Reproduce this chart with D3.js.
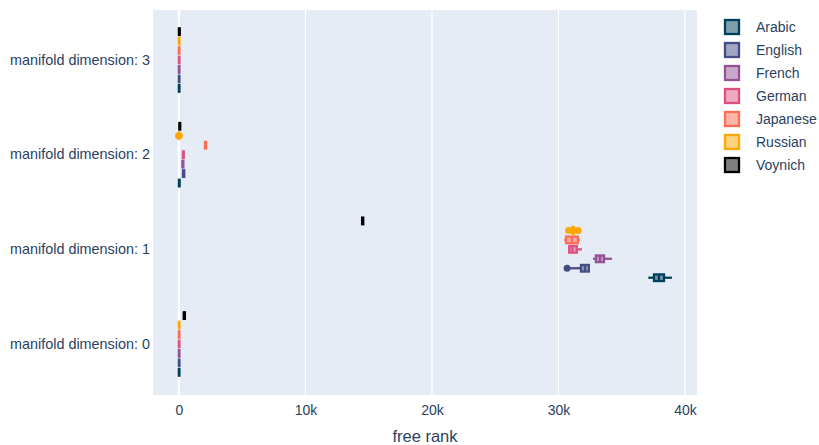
<!DOCTYPE html>
<html>
<head>
<meta charset="utf-8">
<script src="https://cdn.jsdelivr.net/npm/d3@7"></script>
<style>
  html, body { margin: 0; padding: 0; background: #fff; }
  svg { display: block; font-family: "Liberation Sans", Arial, sans-serif; }
</style>
</head>
<body>
<svg id="chart" width="819" height="445"></svg>
<script>
// Languages (one box trace each) and their colours
const languages = ["Arabic", "English", "French", "German", "Japanese", "Russian", "Voynich"];
const colors = ["#003f5c", "#444e86", "#955196", "#dd5182", "#ff6e54", "#ffa600", "#000000"];

// Category axis (bottom to top)
const dimensions = ["manifold dimension: 0", "manifold dimension: 1", "manifold dimension: 2", "manifold dimension: 3"];

// x axis ticks
const xTicks = [0, 10000, 20000, 30000, 40000];
const xTickLabels = ["0", "10k", "20k", "30k", "40k"];

// Box statistics per language: [lower whisker, q1, median, q3, upper whisker], one row per dimension (0..3)
const arabicBoxes   = [[0, 0, 10, 30, 40], [37100, 37550, 37940, 38340, 38970], [0, 0, 20, 50, 50], [0, 0, 10, 30, 40]];
const englishBoxes  = [[0, 0, 10, 30, 40], [30700, 31780, 32100, 32400, 32400], [300, 320, 360, 420, 430], [0, 0, 10, 30, 40]];
const frenchBoxes   = [[0, 0, 10, 30, 40], [32730, 32960, 33280, 33600, 34230], [260, 280, 310, 350, 360], [0, 0, 10, 30, 40]];
const germanBoxes   = [[0, 0, 10, 30, 40], [30750, 30850, 31100, 31450, 31850], [300, 310, 340, 380, 390], [0, 0, 10, 30, 40]];
const japaneseBoxes = [[0, 0, 10, 30, 40], [30450, 30600, 31070, 31540, 31700], [2020, 2060, 2100, 2140, 2160], [0, 0, 10, 30, 40]];
const russianBoxes  = [[0, 0, 10, 30, 40], [31050, 31080, 31150, 31230, 31250], [0, 0, 0, 10, 10], [0, 0, 10, 30, 40]];
const voynichBoxes  = [[360, 380, 420, 470, 480], [14450, 14480, 14520, 14570, 14600], [30, 40, 70, 100, 110], [0, 0, 20, 60, 70]];

// Points beyond the whiskers, per language, one list per dimension (0..3)
const arabicOutliers   = [[], [], [], []];
const englishOutliers  = [[], [30680], [], []];
const frenchOutliers   = [[], [], [], []];
const germanOutliers   = [[], [], [], []];
const japaneseOutliers = [[], [], [], []];
const russianOutliers  = [[], [30800, 31560], [-30, 40], []];
const voynichOutliers  = [[], [], [], []];

const boxSets = [arabicBoxes, englishBoxes, frenchBoxes, germanBoxes, japaneseBoxes, russianBoxes, voynichBoxes];
const outlierSets = [arabicOutliers, englishOutliers, frenchOutliers, germanOutliers, japaneseOutliers, russianOutliers, voynichOutliers];

const svg = d3.select("#chart");
const plot = { left: 153, right: 697, top: 10, bottom: 395 };
const textColor = "#2a3f5f";
const lineWidth = 2.3;

// Scales
const x = d3.scaleLinear().domain([-2050, 40950]).range([plot.left, plot.right]);
const y = d3.scaleBand().domain(dimensions.slice().reverse()).range([12.7, 391.3]).paddingInner(0).paddingOuter(0);
const groupWidth = y.bandwidth() * 0.7;
const slot = d3.scaleBand().domain(languages.slice().reverse()).range([-groupWidth / 2, groupWidth / 2]);
const boxHeight = slot.bandwidth() * 0.7;

// Plot background
svg.append("rect")
  .attr("x", plot.left).attr("y", plot.top)
  .attr("width", plot.right - plot.left).attr("height", plot.bottom - plot.top)
  .attr("fill", "#e5ecf6");

// Vertical grid lines and zero line
svg.append("g").selectAll("line")
  .data(xTicks)
  .join("line")
  .attr("x1", d => x(d)).attr("x2", d => x(d))
  .attr("y1", plot.top).attr("y2", plot.bottom)
  .attr("stroke", "#fff")
  .attr("stroke-width", d => d === 0 ? 2.3 : 1.2);

// x axis
const xAxis = svg.append("g")
  .attr("transform", `translate(0,${plot.bottom})`)
  .call(d3.axisBottom(x).tickValues(xTicks).tickFormat((d, i) => xTickLabels[i]).tickSize(0).tickPadding(10));
xAxis.select(".domain").remove();
xAxis.attr("font-family", null);
xAxis.selectAll("text").attr("fill", textColor).attr("font-size", 14);

// y axis
const yAxis = svg.append("g")
  .attr("transform", `translate(${plot.left},0)`)
  .call(d3.axisLeft(y).tickSize(0).tickPadding(3));
yAxis.select(".domain").remove();
yAxis.attr("font-family", null);
yAxis.selectAll("text").attr("fill", textColor).attr("font-size", 14.4);

// x axis title
svg.append("text")
  .attr("x", (plot.left + plot.right) / 2).attr("y", 442)
  .attr("text-anchor", "middle")
  .attr("fill", textColor).attr("font-size", 16.5)
  .text("free rank");

// Boxes
svg.append("clipPath").attr("id", "plot-clip")
  .append("rect")
  .attr("x", plot.left).attr("y", plot.top)
  .attr("width", plot.right - plot.left).attr("height", plot.bottom - plot.top);

const marks = svg.append("g").attr("clip-path", "url(#plot-clip)");

languages.forEach((lang, li) => {
  const color = colors[li];
  const rows = dimensions.map((dim, di) => ({ dim, stats: boxSets[li][di], outliers: outlierSets[li][di] }));
  const g = marks.append("g").attr("class", "trace");
  rows.forEach(r => {
    const cy = y(r.dim) + y.bandwidth() / 2 + slot(lang) + slot.bandwidth() / 2;
    const [lo, q1, med, q3, hi] = r.stats;
    // whiskers
    g.append("line")
      .attr("x1", x(lo)).attr("x2", x(q1)).attr("y1", cy).attr("y2", cy)
      .attr("stroke", color).attr("stroke-width", lineWidth);
    g.append("line")
      .attr("x1", x(q3)).attr("x2", x(hi)).attr("y1", cy).attr("y2", cy)
      .attr("stroke", color).attr("stroke-width", lineWidth);
    // box
    g.append("rect")
      .attr("x", x(q1)).attr("y", cy - boxHeight / 2)
      .attr("width", Math.max(0, x(q3) - x(q1))).attr("height", boxHeight)
      .attr("fill", color).attr("fill-opacity", 0.5)
      .attr("stroke", color).attr("stroke-width", lineWidth);
    // median
    g.append("line")
      .attr("x1", x(med)).attr("x2", x(med))
      .attr("y1", cy - boxHeight / 2).attr("y2", cy + boxHeight / 2)
      .attr("stroke", color).attr("stroke-width", lineWidth);
    // outlier points
    g.selectAll(null)
      .data(r.outliers)
      .join("circle")
      .attr("cx", d => x(d)).attr("cy", cy).attr("r", 3.5)
      .attr("fill", color);
  });
});

// Legend
const legend = svg.append("g").attr("transform", "translate(724,27)");
const items = legend.selectAll("g")
  .data(languages)
  .join("g")
  .attr("transform", (d, i) => `translate(0,${i * 23})`);
items.append("rect")
  .attr("x", 1).attr("y", -7).attr("width", 14).attr("height", 14)
  .attr("fill", (d, i) => colors[i]).attr("fill-opacity", 0.5)
  .attr("stroke", (d, i) => colors[i]).attr("stroke-width", lineWidth);
items.append("text")
  .attr("x", 32).attr("y", 0).attr("dy", "0.35em")
  .attr("fill", textColor).attr("font-size", 14)
  .text(d => d);
</script>
</body>
</html>
